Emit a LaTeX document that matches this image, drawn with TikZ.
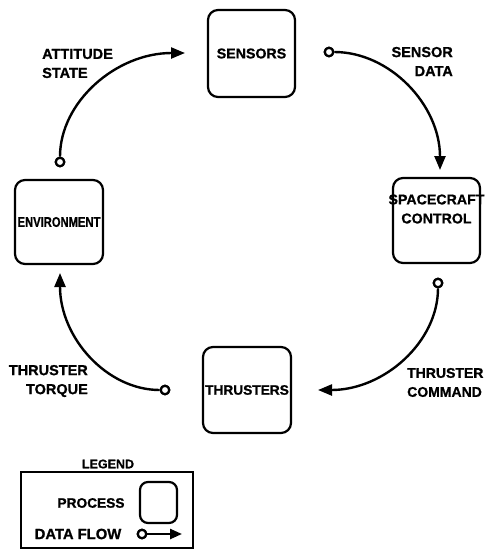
\documentclass[tikz,border=0pt]{standalone}
\usepackage{fontspec}
\usepackage{graphicx}
\setmainfont{Liberation Sans}
\newfontfamily\heavy[FakeBold=1]{Liberation Sans Bold}
\usetikzlibrary{arrows.meta}
\newcommand\fsz[1]{\heavy\fontsize{#1}{19}\selectfont}
\begin{document}
\begin{tikzpicture}[x=1pt,y=-1pt,
  proc/.style={draw, line width=2.2pt, rounded corners=10pt, inner sep=0pt},
  lbl/.style={font=\fsz{14.5}, inner sep=0pt},
  flow/.style={line width=2.4pt, -{Triangle[length=14pt,width=11pt]}},
  dot/.style={circle, draw, line width=2.2pt, fill=white, minimum size=8.5pt, inner sep=0pt}]
\useasboundingbox (0,0) rectangle (486,550);

% processes
\node[proc, minimum width=87pt, minimum height=87pt, font=\fsz{14.2}] (sensors) at (251.5,53.5) {SENSORS};
\node[proc, minimum width=88pt, minimum height=84pt, font=\fsz{14}] (env) at (59,222) {\scalebox{0.8}[1]{ENVIRONMENT}};
\node[proc, minimum width=87pt, minimum height=85pt] (ctrl) at (436.5,220.5) {};
\node[lbl, align=center, font=\fsz{14.2}] (ctrltext) at (436.5,209) {SPACECRAFT\\CONTROL};
\node[proc, minimum width=88pt, minimum height=86pt, font=\fsz{13.7}] (thr) at (247,390) {THRUSTERS};

% flow endpoints
\node[dot] (c1) at (60,162) {};
\coordinate (t1) at (185,53);
\node[dot] (c2) at (329,52) {};
\coordinate (t2) at (440,170);
\node[dot] (c3) at (438,283) {};
\coordinate (t3) at (318,390);
\node[dot] (c4) at (165,390) {};
\coordinate (t4) at (60,273);

\draw[flow] (c1.north) .. controls (60,102) and (116,53) .. (t1);
\draw[flow] (c2.east) .. controls (390,52) and (440,105) .. (t2);
\draw[flow] (c3.south) .. controls (438,342) and (384,390) .. (t3);
\draw[flow] (c4.west) .. controls (107,390) and (60,338) .. (t4);
\node[dot] at (c1) {};
\node[dot] at (c2) {};
\node[dot] at (c3) {};
\node[dot] at (c4) {};

% flow labels
\node[lbl, align=left, anchor=west] (l1) at (42,63.5) {ATTITUDE\\STATE};
\node[lbl, align=right, anchor=east] (l2) at (453,61.5) {SENSOR\\DATA};
\node[lbl, align=right, anchor=east] (l3) at (88,381) {THRUSTER\\TORQUE};
\node[lbl, align=left, anchor=west, font=\fsz{14}] (l4) at (407,382.5) {THRUSTER\\COMMAND};

% legend
\node[lbl, font=\fsz{12.5}] (legtitle) at (108,464) {LEGEND};
\node[draw, line width=2pt, minimum width=172pt, minimum height=76pt, inner sep=0pt] (legend) at (107,510) {};
\node[lbl, font=\fsz{13.7}] (proctext) at (91,503) {PROCESS};
\node[proc, minimum width=37pt, minimum height=41pt, rounded corners=8pt] (legproc) at (158.5,502.5) {};
\node[lbl, font=\fsz{14.8}] (flowtext) at (78,534) {DATA FLOW};
\node[dot] (c5) at (142,534) {};
\coordinate (t5) at (182,534);
\draw[line width=2.4pt, -{Triangle[length=12pt,width=10pt]}] (c5.east) -- (t5);
\node[dot] at (c5) {};
\end{tikzpicture}
\end{document}
